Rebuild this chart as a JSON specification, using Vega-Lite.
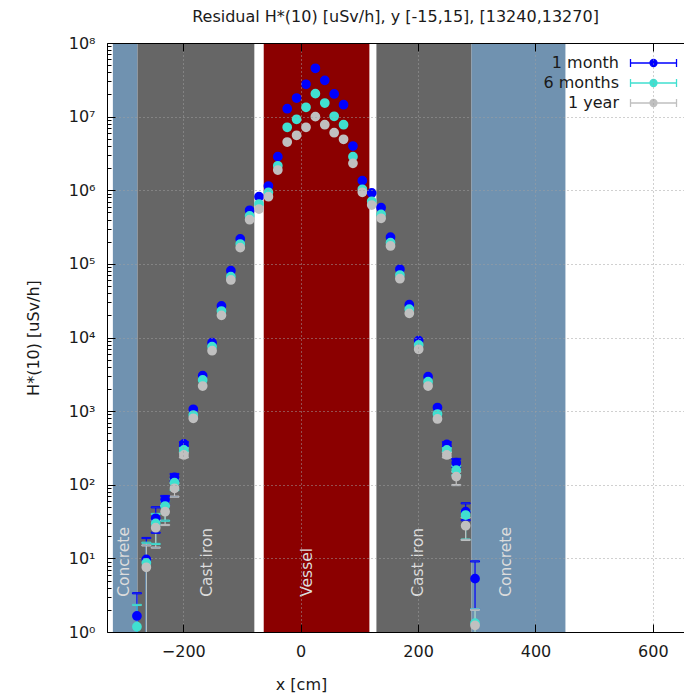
{
  "$schema": "https://vega.github.io/schema/vega-lite/v6.json",
  "width": 577,
  "height": 589,
  "autosize": {"type": "none"},
  "padding": {"left": 107, "top": 43, "right": 0, "bottom": 62},
  "background": "white",
  "view": {"stroke": null},
  "config": {"font": "DejaVu Sans"},
  "title": {"text": "Residual H*(10) [uSv/h], y [-15,15], [13240,13270]", "fontSize": 16, "font": "DejaVu Sans", "fontWeight": "normal", "color": "#1a1a1a", "offset": 10, "anchor": "middle", "frame": "group"},
  "datasets": {
    "regions": [
      {"m": "Concrete", "x0": -320, "x1": -278, "lx": -301},
      {"m": "Cast iron", "x0": -278, "x1": -79, "lx": -159},
      {"m": "Vessel", "x0": -63, "x1": 117, "lx": 10.6},
      {"m": "Cast iron", "x0": 129, "x1": 291, "lx": 200},
      {"m": "Concrete", "x0": 291, "x1": 451, "lx": 350.6}
    ],
    "pts": [
      {"x": -279, "1 month": 1.65, "6 months": 1.18, "1 year": null},
      {"x": -263, "1 month": 9.7, "6 months": 8.7, "1 year": 7.56},
      {"x": -247, "1 month": 35, "6 months": 29.9, "1 year": 26.1},
      {"x": -231, "1 month": 62.1, "6 months": 51.4, "1 year": 43},
      {"x": -215, "1 month": 126, "6 months": 107, "1 year": 89.5},
      {"x": -199, "1 month": 358, "6 months": 297, "1 year": 254},
      {"x": -183, "1 month": 1060, "6 months": 885, "1 year": 800},
      {"x": -167, "1 month": 3030, "6 months": 2650, "1 year": 2190},
      {"x": -151, "1 month": 8490, "6 months": 7500, "1 year": 6620},
      {"x": -135, "1 month": 26800, "6 months": 22900, "1 year": 20000},
      {"x": -119, "1 month": 80700, "6 months": 67000, "1 year": 60400},
      {"x": -103, "1 month": 218000, "6 months": 186000, "1 year": 166000},
      {"x": -87, "1 month": 534000, "6 months": 447000, "1 year": 398000},
      {"x": -71, "1 month": 817000, "6 months": 650000, "1 year": 556000},
      {"x": -55, "1 month": 1140000, "6 months": 938000, "1 year": 817000},
      {"x": -39, "1 month": 2860000, "6 months": 2150000, "1 year": 1880000},
      {"x": -23, "1 month": 12800000, "6 months": 7160000, "1 year": 4520000},
      {"x": -7, "1 month": 17900000, "6 months": 9200000, "1 year": 5580000},
      {"x": 9, "1 month": 27500000, "6 months": 13400000, "1 year": 7160000},
      {"x": 25, "1 month": 45300000, "6 months": 20500000, "1 year": 10000000},
      {"x": 41, "1 month": 31100000, "6 months": 15300000, "1 year": 7760000},
      {"x": 57, "1 month": 20300000, "6 months": 10100000, "1 year": 6050000},
      {"x": 73, "1 month": 14500000, "6 months": 7760000, "1 year": 4920000},
      {"x": 89, "1 month": 3990000, "6 months": 2860000, "1 year": 2320000},
      {"x": 105, "1 month": 1350000, "6 months": 1030000, "1 year": 938000},
      {"x": 121, "1 month": 918000, "6 months": 708000, "1 year": 630000},
      {"x": 137, "1 month": 579000, "6 months": 471000, "1 year": 416000},
      {"x": 153, "1 month": 230000, "6 months": 194000, "1 year": 175000},
      {"x": 169, "1 month": 84400, "6 months": 70600, "1 year": 62900},
      {"x": 185, "1 month": 27900, "6 months": 24200, "1 year": 21300},
      {"x": 201, "1 month": 9060, "6 months": 7910, "1 year": 6920},
      {"x": 217, "1 month": 2940, "6 months": 2510, "1 year": 2190},
      {"x": 233, "1 month": 1120, "6 months": 914, "1 year": 782},
      {"x": 249, "1 month": 354, "6 months": 297, "1 year": 254},
      {"x": 265, "1 month": 199, "6 months": 158, "1 year": 129},
      {"x": 281, "1 month": 43, "6 months": 38.8, "1 year": 27.8},
      {"x": 297, "1 month": 5.3, "6 months": 1.32, "1 year": 1.23}
    ],
    "err": [
      {"x": -279, "s": "1 month", "lo": 0.3, "hi": 3.36},
      {"x": -279, "s": "6 months", "lo": 0.3, "hi": 2.33},
      {"x": -263, "s": "1 month", "lo": 0.3, "hi": 18.9},
      {"x": -263, "s": "6 months", "lo": 0.3, "hi": 16.3},
      {"x": -263, "s": "1 year", "lo": 0.3, "hi": 15},
      {"x": -247, "s": "1 month", "lo": 22.3, "hi": 49.4},
      {"x": -247, "s": "6 months", "lo": 15.7, "hi": 40.1},
      {"x": -247, "s": "1 year", "lo": 14, "hi": 33},
      {"x": -231, "s": "1 month", "lo": 53, "hi": 70.3},
      {"x": -231, "s": "6 months", "lo": 32.5, "hi": 60},
      {"x": -231, "s": "1 year", "lo": 28.4, "hi": 52},
      {"x": -215, "s": "1 month", "lo": 112, "hi": 140},
      {"x": -215, "s": "6 months", "lo": 84.7, "hi": 120},
      {"x": -215, "s": "1 year", "lo": 68.9, "hi": 105},
      {"x": -199, "s": "1 month", "lo": 335, "hi": 380},
      {"x": -199, "s": "6 months", "lo": 280, "hi": 315},
      {"x": -199, "s": "1 year", "lo": 235, "hi": 272},
      {"x": 249, "s": "1 month", "lo": 330, "hi": 380},
      {"x": 249, "s": "6 months", "lo": 280, "hi": 315},
      {"x": 249, "s": "1 year", "lo": 235, "hi": 275},
      {"x": 265, "s": "1 month", "lo": 175, "hi": 224},
      {"x": 265, "s": "6 months", "lo": 135, "hi": 180},
      {"x": 265, "s": "1 year", "lo": 99, "hi": 150},
      {"x": 281, "s": "1 month", "lo": 33, "hi": 56},
      {"x": 281, "s": "6 months", "lo": 18, "hi": 44},
      {"x": 281, "s": "1 year", "lo": 17.8, "hi": 36},
      {"x": 297, "s": "1 month", "lo": 2.03, "hi": 9.1},
      {"x": 297, "s": "6 months", "lo": 0.3, "hi": 2.03},
      {"x": 297, "s": "1 year", "lo": 0.3, "hi": 2.0}
    ]
  },
  "resolve": {"axis": {"x": "independent"}},
  "layer": [
    {
      "data": {"name": "regions"},
      "mark": {"type": "rect"},
      "encoding": {
        "x": {"field": "x0", "type": "quantitative",
          "scale": {"domain": [-330, 653], "nice": false, "zero": false},
          "axis": {"values": [-200, 0, 200, 400, 600], "tickSize": -8, "tickColor": "black", "domainColor": "black", "labelFontSize": 16, "labelColor": "#1a1a1a", "labelPadding": 19, "labelFlush": false, "grid": true, "gridColor": "#a0a0a0", "gridDash": [1, 3], "zindex": 1,
            "title": "x [cm]", "titleFontSize": 16, "titleFontWeight": "normal", "titleColor": "#1a1a1a", "titleX": 194, "titleY": 52, "titleBaseline": "middle", "titleAlign": "center"}},
        "x2": {"field": "x1"},
        "color": {"field": "m", "type": "nominal", "legend": null,
          "scale": {"domain": ["Concrete", "Cast iron", "Vessel"], "range": ["#7092b0", "#666666", "#8b0000"]}}
      }
    },
    {
      "data": {"name": "regions"},
      "mark": {"type": "text", "angle": 270, "align": "left", "baseline": "middle", "fontSize": 15.5, "font": "DejaVu Sans", "color": "#dcdcdc"},
      "encoding": {
        "x": {"field": "lx", "type": "quantitative",
          "axis": {"orient": "top", "values": [-200, 0, 200, 400, 600], "labels": false, "tickSize": -8, "tickColor": "black", "domainColor": "black", "grid": false, "title": null, "zindex": 1}},
        "y": {"datum": 3, "type": "quantitative"},
        "text": {"field": "m"}
      }
    },
    {
      "data": {"name": "err"},
      "mark": {"type": "rule", "clip": true, "strokeWidth": 1.2},
      "encoding": {
        "x": {"field": "x", "type": "quantitative", "axis": null},
        "y": {"field": "lo", "type": "quantitative"},
        "y2": {"field": "hi"},
        "stroke": {"field": "s", "type": "nominal"}
      }
    },
    {
      "data": {"name": "err"},
      "mark": {"type": "tick", "orient": "horizontal", "clip": true, "size": 9, "thickness": 1.2, "opacity": 1},
      "encoding": {
        "x": {"field": "x", "type": "quantitative", "axis": null},
        "y": {"field": "lo", "type": "quantitative"},
        "stroke": {"field": "s", "type": "nominal"}
      }
    },
    {
      "data": {"name": "err"},
      "mark": {"type": "tick", "orient": "horizontal", "clip": true, "size": 9, "thickness": 1.2, "opacity": 1},
      "encoding": {
        "x": {"field": "x", "type": "quantitative", "axis": null},
        "y": {"field": "hi", "type": "quantitative"},
        "stroke": {"field": "s", "type": "nominal"}
      }
    },
    {
      "data": {"name": "pts"},
      "transform": [
        {"fold": ["1 month", "6 months", "1 year"], "as": ["s", "v"]},
        {"filter": "datum.v != null"}
      ],
      "mark": {"type": "point", "shape": "circle", "filled": true, "size": 60, "opacity": 1, "clip": true},
      "encoding": {
        "x": {"field": "x", "type": "quantitative", "axis": null},
        "y": {"field": "v", "type": "quantitative",
          "scale": {"type": "log", "domain": [1, 100000000], "nice": false},
          "axis": {
            "title": "H*(10) [uSv/h]", "titleFontSize": 16, "titleFontWeight": "normal", "titleColor": "#1a1a1a", "titleX": -74, "titleY": 294.5, "titleAngle": 270, "titleBaseline": "middle", "titleAlign": "center",
            "values": [1,2,3,4,5,6,7,8,9,10,20,30,40,50,60,70,80,90,100,200,300,400,500,600,700,800,900,1000,2000,3000,4000,5000,6000,7000,8000,9000,10000,20000,30000,40000,50000,60000,70000,80000,90000,100000,200000,300000,400000,500000,600000,700000,800000,900000,1000000,2000000,3000000,4000000,5000000,6000000,7000000,8000000,9000000,10000000,20000000,30000000,40000000,50000000,60000000,70000000,80000000,90000000,100000000],
            "labelExpr": "datum.value==1?'10⁰':datum.value==10?'10¹':datum.value==100?'10²':datum.value==1000?'10³':datum.value==10000?'10⁴':datum.value==100000?'10⁵':datum.value==1000000?'10⁶':datum.value==10000000?'10⁷':datum.value==100000000?'10⁸':''",
            "labelOverlap": false, "labelFlush": false, "labelFontSize": 16, "labelColor": "#1a1a1a", "labelPadding": 20,
            "tickSize": {"condition": {"test": "indexof([1,10,100,1000,10000,100000,1000000,10000000,100000000], datum.value) >= 0", "value": -8}, "value": -4},
            "tickColor": "black", "domainColor": "black",
            "grid": true, "gridColor": "#a0a0a0", "gridDash": [1, 3],
            "gridOpacity": {"condition": {"test": "indexof([1,10,100,1000,10000,100000,1000000,10000000,100000000], datum.value) >= 0", "value": 1}, "value": 0},
            "zindex": 1
          }},
        "fill": {"field": "s", "type": "nominal",
          "scale": {"domain": ["1 month", "6 months", "1 year"], "range": ["#0000ff", "#40e0d0", "#c0c0c0"]},
          "legend": {"orient": "none", "legendX": 498, "legendY": 12, "title": null, "symbolType": "M4.52,0H16.4M4.52,-1.03V1.03M16.4,-1.03V1.03M11.36,0A0.9,0.9 0 1,1 9.56,0A0.9,0.9 0 1,1 11.36,0Z", "symbolSize": 60, "symbolStrokeWidth": 1.3, "labelAlign": "right", "labelOffset": -2, "labelFontSize": 16, "labelFont": "DejaVu Sans", "labelColor": "#1a1a1a", "rowPadding": 4, "padding": 0}},
        "stroke": {"field": "s", "type": "nominal",
          "scale": {"domain": ["1 month", "6 months", "1 year"], "range": ["#0000ff", "#40e0d0", "#c0c0c0"]},
          "legend": {"orient": "none", "legendX": 498, "legendY": 12, "title": null, "symbolType": "M4.52,0H16.4M4.52,-1.03V1.03M16.4,-1.03V1.03M11.36,0A0.9,0.9 0 1,1 9.56,0A0.9,0.9 0 1,1 11.36,0Z", "symbolSize": 60, "symbolStrokeWidth": 1.3, "labelAlign": "right", "labelOffset": -2, "labelFontSize": 16, "labelFont": "DejaVu Sans", "labelColor": "#1a1a1a", "rowPadding": 4, "padding": 0}}
      }
    }
  ]
}
